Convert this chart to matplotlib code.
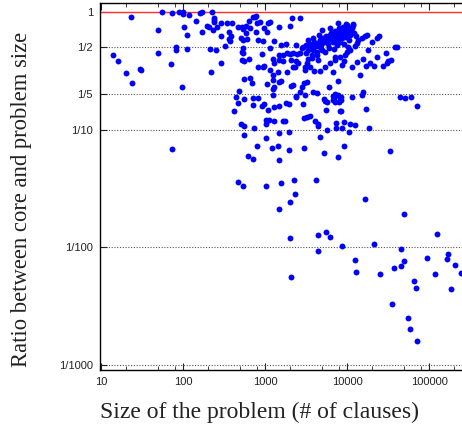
import matplotlib
matplotlib.use("Agg")
import matplotlib.pyplot as plt
from matplotlib.ticker import FixedLocator, NullFormatter, FixedFormatter

# ---- data: (problem size in clauses, core/problem ratio) ----
small_problems = [(14, 0.43), (16, 0.38), (20, 0.30), (23, 0.91), (24, 0.25), (30, 0.33), (31, 0.32),
                  (49, 0.70), (50, 0.45), (55, 1.0), (71, 0.36), (73, 0.97), (73, 0.068), (82, 0.50),
                  (81, 0.47), (89, 0.99), (96, 0.23), (100, 0.99), (101, 0.956), (102, 0.74), (112, 0.64),
                  (113, 0.48), (118, 0.95), (144, 0.84), (161, 0.97), (172, 0.99), (171, 0.68), (194, 0.76),
                  (208, 0.74), (212, 0.48), (218, 0.31), (228, 1.0), (234, 0.70), (239, 0.88), (241, 0.855),
                  (241, 0.827), (250, 0.47), (258, 0.74), (288, 0.37), (293, 0.80), (293, 0.62), (325, 0.51),
                  (347, 0.80), (367, 0.67), (361, 0.59), (374, 0.57)]

medium_upper = [(400, 0.80), (470, 0.75), (525, 0.74), (545, 0.71), (590, 0.76), (630, 0.84), (656, 0.73),
                (720, 0.91), (770, 0.93), (760, 0.90), (806, 0.81), (862, 0.82), (980, 0.73), (1050, 0.67),
                (776, 0.67), (1150, 0.82), (1080, 0.80), (1490, 0.75), (2120, 0.88), (2690, 0.88), (2020, 0.76),
                (590, 0.66), (388, 0.62), (545, 0.58), (608, 0.59), (506, 0.60), (953, 0.57), (828, 0.58),
                (1150, 0.49), (1300, 0.57), (1550, 0.52), (545, 0.49), (520, 0.46), (545, 0.445), (525, 0.39),
                (555, 0.38), (633, 0.40), (927, 0.44), (972, 0.35), (822, 0.34), (1260, 0.40), (1300, 0.366),
                (1490, 0.43), (1670, 0.43), (1490, 0.39), (1640, 0.38), (1840, 0.445), (2020, 0.44),
                (2210, 0.445), (2440, 0.44), (2060, 0.39), (2370, 0.38), (2670, 0.445), (2800, 0.49),
                (2180, 0.34), (2300, 0.343), (2550, 0.37), (950, 0.337), (1150, 0.321), (1260, 0.29),
                (1450, 0.31), (1840, 0.31), (555, 0.27), (662, 0.275), (700, 0.25), (1050, 0.244),
                (1260, 0.264), (1490, 0.255), (1570, 0.258), (2080, 0.235), (2210, 0.24), (2390, 0.193),
                (2670, 0.21), (2820, 0.23), (2990, 0.25), (3280, 0.255), (3820, 0.21), (4350, 0.206),
                (1300, 0.232), (1260, 0.22), (443, 0.19), (555, 0.182), (704, 0.185), (828, 0.185),
                (486, 0.214), (1800, 0.534), (2400, 0.524)]

medium_lower = [(472, 0.167), (423, 0.145), (720, 0.162), (912, 0.159), (980, 0.164), (1100, 0.147),
                (1300, 0.155), (1480, 0.158), (1260, 0.197), (1800, 0.167), (1980, 0.165), (2390, 0.19),
                (3080, 0.197), (2880, 0.165), (2990, 0.126), (3230, 0.129), (3540, 0.131), (4080, 0.117),
                (4470, 0.111), (4470, 0.107), (5400, 0.176), (5760, 0.173), (5550, 0.147),
                (6750, 0.193), (7150, 0.199), (7770, 0.197), (8100, 0.186), (7880, 0.173), (7150, 0.170),
                (6650, 0.177), (6930, 0.184), (8220, 0.145), (506, 0.111), (555, 0.107), (741, 0.103),
                (1030, 0.121), (1110, 0.121), (1290, 0.118), (1030, 0.111), (1640, 0.117), (1750, 0.117),
                (1490, 0.093), (1960, 0.096), (555, 0.090), (1030, 0.085), (4690, 0.087), (5760, 0.100),
                (7350, 0.103), (8610, 0.103), (7400, 0.114), (792, 0.073), (1210, 0.070), (1450, 0.073),
                (1960, 0.067), (2970, 0.069), (621, 0.059), (720, 0.056), (1480, 0.055), (5250, 0.063),
                (7830, 0.058), (9190, 0.073), (464, 0.036), (535, 0.033), (1020, 0.033), (1580, 0.035),
                (2260, 0.037), (4150, 0.037), (2340, 0.0285), (2000, 0.024), (1490, 0.021), (2020, 0.012),
                (4390, 0.0126), (5500, 0.0135), (6150, 0.0123), (4430, 0.0093), (8770, 0.0102),
                (2080, 0.0056), (5970, 0.229), (5190, 0.182)]

large_problems = [(16600, 0.0257), (49100, 0.019), (126000, 0.013), (21500, 0.0106), (45600, 0.0097),
                  (12500, 0.0078), (12800, 0.0062), (25100, 0.0059), (50000, 0.0076), (45200, 0.0069),
                  (37400, 0.0067), (94600, 0.0081), (172000, 0.0088), (164000, 0.0079), (206000, 0.0070),
                  (119000, 0.0059), (248000, 0.0060), (66200, 0.0052), (69300, 0.0045), (184000, 0.0044),
                  (35400, 0.0033), (54900, 0.0025), (58600, 0.0020), (70800, 0.0016),
                  (44000, 0.188), (51400, 0.185), (60800, 0.189), (71500, 0.16), (16900, 0.149),
                  (15100, 0.197), (11400, 0.189), (8430, 0.19), (8430, 0.178), (8430, 0.144), (9270, 0.115),
                  (10900, 0.112), (12500, 0.110), (10700, 0.095), (18500, 0.103), (33200, 0.066),
                  (9900, 0.78), (11900, 0.78), (16600, 0.62), (17400, 0.64), (20000, 0.56), (23000, 0.60),
                  (24800, 0.625), (13700, 0.58), (15100, 0.60), (13100, 0.54), (12500, 0.51), (10900, 0.475),
                  (9900, 0.46), (38500, 0.50), (40300, 0.50), (17900, 0.47), (29600, 0.445), (23000, 0.41),
                  (34100, 0.39), (31900, 0.38), (30500, 0.37), (27700, 0.35), (19100, 0.366), (21300, 0.347),
                  (15500, 0.40), (13400, 0.376), (17100, 0.347), (11400, 0.34), (9190, 0.38), (8610, 0.354),
                  (14400, 0.29), (15700, 0.209)]

dense_cluster = [(2900, 0.504), (3160, 0.524), (3340, 0.475), (3540, 0.534), (3740, 0.504), (3960, 0.556),
                 (4190, 0.514), (4430, 0.545), (4690, 0.578), (4820, 0.524), (5100, 0.601), (5250, 0.556),
                 (5550, 0.625), (5710, 0.578), (5870, 0.534), (6210, 0.637), (6380, 0.589), (6560, 0.663),
                 (6750, 0.556), (6940, 0.613), (7140, 0.689), (7340, 0.637), (7550, 0.578), (7770, 0.663),
                 (7990, 0.731), (8220, 0.625), (8450, 0.689), (8690, 0.601), (8940, 0.745), (9190, 0.650),
                 (9450, 0.703), (9720, 0.613), (10000, 0.663), (10280, 0.717), (10580, 0.578), (10880, 0.637),
                 (11190, 0.689), (11500, 0.745), (12170, 0.663), (12870, 0.625), (7550, 0.524), (8220, 0.556),
                 (9190, 0.534), (6040, 0.494), (4960, 0.475), (4310, 0.457), (3740, 0.431), (3160, 0.448),
                 (5400, 0.457), (6940, 0.485), (3340, 0.578), (3850, 0.601), (4560, 0.637), (7140, 0.414),
                 (9450, 0.431), (10280, 0.504), (4960, 0.703), (6210, 0.731), (7770, 0.806), (9720, 0.790),
                 (11800, 0.790), (11500, 0.731), (3540, 0.494), (3850, 0.475), (4690, 0.504), (6340, 0.659),
                 (5400, 0.343), (6210, 0.366), (7140, 0.391), (8220, 0.417), (6800, 0.311), (7820, 0.259),
                 (4690, 0.315), (4000, 0.316), (3540, 0.343), (3220, 0.366), (3370, 0.396), (3720, 0.404),
                 (4260, 0.431), (4470, 0.391), (3080, 0.343), (3110, 0.321)]

groups = [small_problems, medium_upper, medium_lower, large_problems, dense_cluster]
size = [p[0] for g in groups for p in g]
ratio = [p[1] for g in groups for p in g]

y_ticks = [0.001, 0.01, 0.1, 0.2, 0.5, 1]
y_labels = ["1/1000", "1/100", "1/10", "1/5", "1/2", "1"]
x_ticks = [10, 100, 1000, 10000, 100000]
x_labels = ["10", "100", "1000", "10000", "100000"]
x_minor = [m * 10 ** e for e in range(1, 6) for m in (2, 5, 8)]

tick_font = "Liberation Sans"
label_font = "Liberation Serif"

fig = plt.figure(figsize=(4.62, 4.33), dpi=100)
ax = fig.add_axes([100 / 462, 1 - 370 / 433, 362 / 462, 367 / 433])
ax.set_xscale("log")
ax.set_yscale("log")
ax.set_xlim(9.72, 252000)
ax.set_ylim(0.000903, 1.19)

ax.axhline(1, color="#ff3030", lw=1.0, zorder=2)
ax.scatter(size, ratio, s=18, color="#0000ff", linewidths=0, zorder=3)

ax.yaxis.set_major_locator(FixedLocator(y_ticks))
ax.yaxis.set_major_formatter(FixedFormatter(y_labels))
ax.yaxis.set_minor_locator(FixedLocator([]))
ax.xaxis.set_major_locator(FixedLocator(x_ticks))
ax.xaxis.set_major_formatter(FixedFormatter(x_labels))
ax.xaxis.set_minor_locator(FixedLocator(x_minor))
ax.xaxis.set_minor_formatter(NullFormatter())

ax.yaxis.grid(True, which="major", linestyle=(0, (1, 1.5)), color="#555555", linewidth=0.8, zorder=1)
ax.set_axisbelow(True)

ax.tick_params(which="both", direction="in", top=True, right=False, colors="#222222")
ax.tick_params(which="major", length=5, width=0.8, pad=5)
ax.tick_params(which="minor", length=3, width=0.6)
for lab in ax.get_xticklabels() + ax.get_yticklabels():
    lab.set_fontfamily(tick_font)
    lab.set_fontsize(8)

ax.spines["right"].set_visible(False)
for s in ("left", "bottom", "top"):
    ax.spines[s].set_linewidth(1.0)

fig.text(260 / 462, 1 - 412 / 433, "Size of the problem (# of clauses)", family=label_font,
         fontsize=17, ha="center", va="center", color="#222222")
fig.text(22 / 462, 1 - 199 / 433, "Ratio between core and problem size", family=label_font,
         fontsize=16.3, ha="center", va="center", rotation=90, color="#222222")

fig.savefig("out.png", dpi=100)
